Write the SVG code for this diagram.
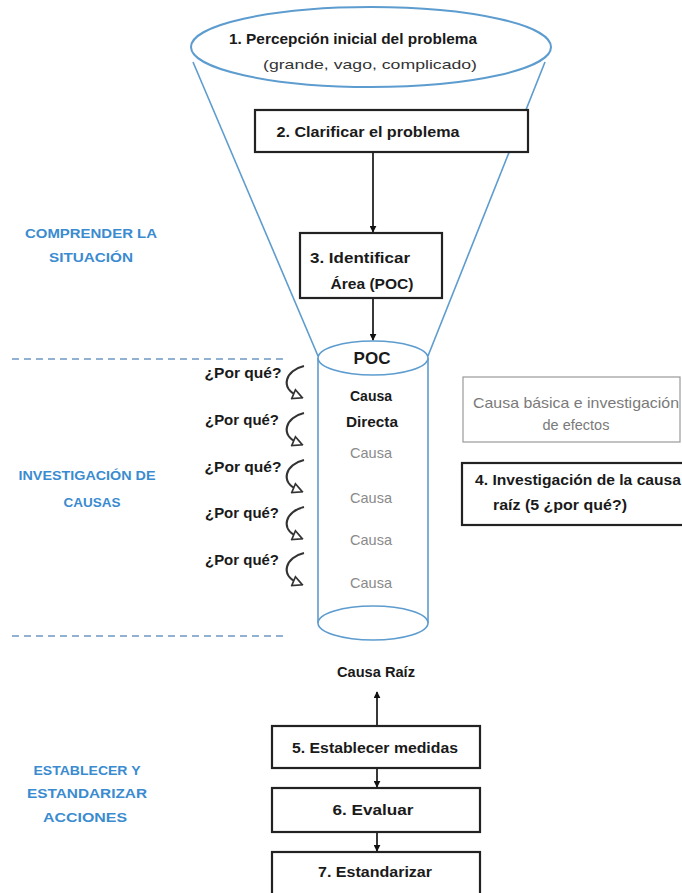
<svg xmlns="http://www.w3.org/2000/svg" width="682" height="893" viewBox="0 0 682 893">
<defs>
<style>
text{font-family:"Liberation Sans",Arial,sans-serif;fill:#1a1a1a;text-anchor:middle;dominant-baseline:central}
.b{font-weight:bold}
.g{fill:#8a8a8a}
.lbl{font-weight:bold;fill:#3a8bd0;font-size:13.5px}
.box{fill:#fff;stroke:#222;stroke-width:2.2}
.thin{fill:#fff;stroke:#999;stroke-width:1.2}
.blue{fill:none;stroke:#5d9ccf;stroke-width:1.6}
.dash{stroke:#6f97c4;stroke-width:1.6;stroke-dasharray:7 5}
.con{stroke:#222;stroke-width:1.8;fill:none}
.why{stroke:#333;stroke-width:2.2;fill:none}
</style>
<marker id="ah" viewBox="0 0 10 10" refX="9" refY="5" markerWidth="7" markerHeight="7" orient="auto" markerUnits="userSpaceOnUse">
<path d="M0,0 L10,5 L0,10 z" fill="#111"/>
</marker>
<marker id="oh" viewBox="0 0 10 10" refX="5" refY="5" markerWidth="12" markerHeight="12" orient="auto" markerUnits="userSpaceOnUse">
<path d="M1,1 L9,5 L1,9 z" fill="#fff" stroke="#333" stroke-width="1.4"/>
</marker>
</defs>

<g id="funnel">
<line class="blue" x1="193" y1="62" x2="318" y2="356"/>
<line class="blue" x1="545" y1="62" x2="428" y2="356"/>
<ellipse class="blue" cx="371" cy="47" rx="180" ry="40" style="fill:#fff;stroke-width:2"/>
</g>

<g id="dividers">
<line class="dash" x1="12" y1="359" x2="284" y2="359"/>
<line class="dash" x1="12" y1="636" x2="284" y2="636"/>
</g>

<g id="n1">
<text class="b" x="353" y="38" font-size="15" textLength="248" lengthAdjust="spacingAndGlyphs">1. Percepción inicial del problema</text>
<text x="370" y="64" font-size="13.5" style="fill:#333" textLength="214" lengthAdjust="spacingAndGlyphs">(grande, vago, complicado)</text>
</g>

<g id="n2">
<rect class="box" x="255" y="110" width="273" height="42"/>
<text class="b" x="368" y="131" font-size="15" textLength="183" lengthAdjust="spacingAndGlyphs">2. Clarificar el problema</text>
</g>

<g id="n3">
<rect class="box" x="300" y="233" width="142" height="65"/>
<text class="b" x="360" y="257" font-size="15" textLength="100" lengthAdjust="spacingAndGlyphs">3. Identificar</text>
<text class="b" x="372" y="283" font-size="15" textLength="83" lengthAdjust="spacingAndGlyphs">Área (POC)</text>
</g>

<g id="poc">
<line class="blue" x1="318" y1="358" x2="318" y2="623"/>
<line class="blue" x1="428" y1="358" x2="428" y2="623"/>
<ellipse class="blue" cx="373" cy="358" rx="55" ry="17" style="fill:#fff"/>
<ellipse class="blue" cx="373" cy="623" rx="55" ry="17" style="fill:#fff"/>
<text class="b" x="372" y="358" font-size="17">POC</text>
<text class="b" x="371" y="396" font-size="14">Causa</text>
<text class="b" x="372" y="422" font-size="14" textLength="52" lengthAdjust="spacingAndGlyphs">Directa</text>
<text class="g" x="371" y="453" font-size="14.5">Causa</text>
<text class="g" x="371" y="498" font-size="14.5">Causa</text>
<text class="g" x="371" y="540" font-size="14.5">Causa</text>
<text class="g" x="371" y="583" font-size="14.5">Causa</text>
</g>

<g id="whys">
<text class="b" x="243" y="373" font-size="14.5" textLength="77" lengthAdjust="spacingAndGlyphs">¿Por qué?</text>
<text class="b" x="242" y="420" font-size="14.5" textLength="74" lengthAdjust="spacingAndGlyphs">¿Por qué?</text>
<text class="b" x="243" y="467" font-size="14.5" textLength="77" lengthAdjust="spacingAndGlyphs">¿Por qué?</text>
<text class="b" x="242" y="513" font-size="14.5" textLength="74" lengthAdjust="spacingAndGlyphs">¿Por qué?</text>
<text class="b" x="242" y="560" font-size="14.5" textLength="74" lengthAdjust="spacingAndGlyphs">¿Por qué?</text>
</g>

<g id="n-basica">
<rect class="thin" x="463" y="377" width="217" height="65"/>
<text x="576" y="403" font-size="14.5" textLength="206" lengthAdjust="spacingAndGlyphs" style="fill:#7a7a7a">Causa básica e investigación</text>
<text x="576" y="425" font-size="14.5" style="fill:#7a7a7a">de efectos</text>
</g>

<g id="n4">
<rect class="box" x="462" y="463" width="230" height="62"/>
<text class="b" x="578" y="480" font-size="14.5" textLength="206" lengthAdjust="spacingAndGlyphs">4. Investigación de la causa</text>
<text class="b" x="560" y="505" font-size="14.5" textLength="134" lengthAdjust="spacingAndGlyphs">raíz (5 ¿por qué?)</text>
</g>

<g id="sections">
<text class="lbl" x="91" y="233" textLength="132" lengthAdjust="spacingAndGlyphs">COMPRENDER LA</text>
<text class="lbl" x="91" y="257" textLength="84" lengthAdjust="spacingAndGlyphs">SITUACIÓN</text>
<text class="lbl" x="87" y="475" textLength="137" lengthAdjust="spacingAndGlyphs">INVESTIGACIÓN DE</text>
<text class="lbl" x="92" y="502" textLength="57" lengthAdjust="spacingAndGlyphs">CAUSAS</text>
<text class="lbl" x="87" y="770" textLength="107" lengthAdjust="spacingAndGlyphs">ESTABLECER Y</text>
<text class="lbl" x="87" y="793" textLength="120" lengthAdjust="spacingAndGlyphs">ESTANDARIZAR</text>
<text class="lbl" x="85" y="817" textLength="84" lengthAdjust="spacingAndGlyphs">ACCIONES</text>
</g>

<g id="raiz">
<text class="b" x="376" y="672" font-size="14.5" textLength="78" lengthAdjust="spacingAndGlyphs">Causa Raíz</text>
</g>

<g id="n5">
<rect class="box" x="272" y="726" width="208" height="42"/>
<text class="b" x="375" y="747" font-size="15" textLength="166" lengthAdjust="spacingAndGlyphs">5. Establecer medidas</text>
</g>
<g id="n6">
<rect class="box" x="272" y="788" width="208" height="44"/>
<text class="b" x="373" y="809" font-size="15" textLength="81" lengthAdjust="spacingAndGlyphs">6. Evaluar</text>
</g>
<g id="n7">
<rect class="box" x="272" y="852" width="208" height="44"/>
<text class="b" x="375" y="871" font-size="15" textLength="114" lengthAdjust="spacingAndGlyphs">7. Estandarizar</text>
</g>

<g id="connectors">
<line class="con" x1="373" y1="152" x2="373" y2="232" marker-end="url(#ah)"/>
<line class="con" x1="373" y1="298" x2="373" y2="340" marker-end="url(#ah)"/>
<line class="con" x1="377" y1="726" x2="377" y2="692" marker-end="url(#ah)"/>
<line class="con" x1="377" y1="768" x2="377" y2="787" marker-end="url(#ah)"/>
<line class="con" x1="377" y1="832" x2="377" y2="851" marker-end="url(#ah)"/>
<path class="why" d="M304,366 C286,370 279,388 298,396" marker-end="url(#oh)"/>
<path class="why" d="M304,413 C286,417 279,435 298,443" marker-end="url(#oh)"/>
<path class="why" d="M304,460 C286,464 279,482 298,490" marker-end="url(#oh)"/>
<path class="why" d="M304,507 C286,511 279,529 298,537" marker-end="url(#oh)"/>
<path class="why" d="M304,553 C286,557 279,575 298,583" marker-end="url(#oh)"/>
</g>
</svg>
